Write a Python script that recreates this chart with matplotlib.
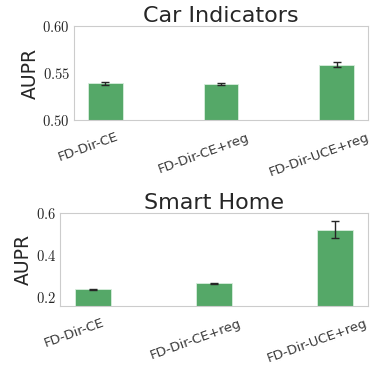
import matplotlib
matplotlib.use("Agg")
import matplotlib.pyplot as plt
import seaborn as sns
import numpy as np
from matplotlib.ticker import FuncFormatter, FixedLocator

sns.set_style("white")
plt.rcParams['font.family'] = ['DejaVu Sans']
plt.rcParams['mathtext.fontset'] = 'cm'

methods = ["FD-Dir-CE", "FD-Dir-CE+reg", "FD-Dir-UCE+reg"]

# Car Indicators
car_aupr = [0.539, 0.5385, 0.5587]
car_err = [0.0018, 0.001, 0.0025]

# Smart Home
home_aupr = [0.235, 0.264, 0.521]
home_err = [0.002, 0.002, 0.040]

green = "#55a868"
text_c = "#262626"

fig = plt.figure(figsize=(3.77, 3.66), dpi=100)
ax1 = fig.add_axes([74/377, 1-120/366, 294/377, 94/366])
ax2 = fig.add_axes([60/377, 1-306/366, 308/377, 93/366])

def draw(ax, vals, errs, title, ylim, ticks, fmt):
    x = np.arange(len(methods))
    ax.bar(x, vals, width=0.3, color=green, edgecolor="#d8eedd", linewidth=0.6,
           yerr=errs, capsize=3, error_kw=dict(ecolor="#262626", elinewidth=1, capthick=1))
    ax.set_xlim(-0.27, 2.27)
    ax.set_ylim(*ylim)
    ax.yaxis.set_major_locator(FixedLocator(ticks))
    ax.yaxis.set_major_formatter(FuncFormatter(lambda v, p: "$" + fmt.format(v) + "$"))
    # tick labels are centred a bit left of the bars (hue-dodge look of the original)
    ax.set_xticks(x - 0.15)
    ax.set_xticklabels(methods, rotation=20, ha="center", fontsize=9.5, color="#3a3a3a")
    ax.tick_params(axis="y", labelsize=10.5, colors=text_c, length=0, pad=3)
    ax.tick_params(axis="x", length=0, pad=7.5)
    ax.set_ylabel("AUPR", fontsize=13.5, color=text_c, labelpad=2)
    ax.set_title(title, fontsize=16, color=text_c, pad=3)
    for s in ax.spines.values():
        s.set_color("#cccccc")
        s.set_linewidth(0.8)

draw(ax1, car_aupr, car_err, "Car Indicators", (0.5, 0.6), [0.5, 0.55, 0.6], "{:.2f}")
draw(ax2, home_aupr, home_err, "Smart Home", (0.155, 0.6), [0.2, 0.4, 0.6], "{:.1f}")

fig.savefig("out.png", dpi=100)
